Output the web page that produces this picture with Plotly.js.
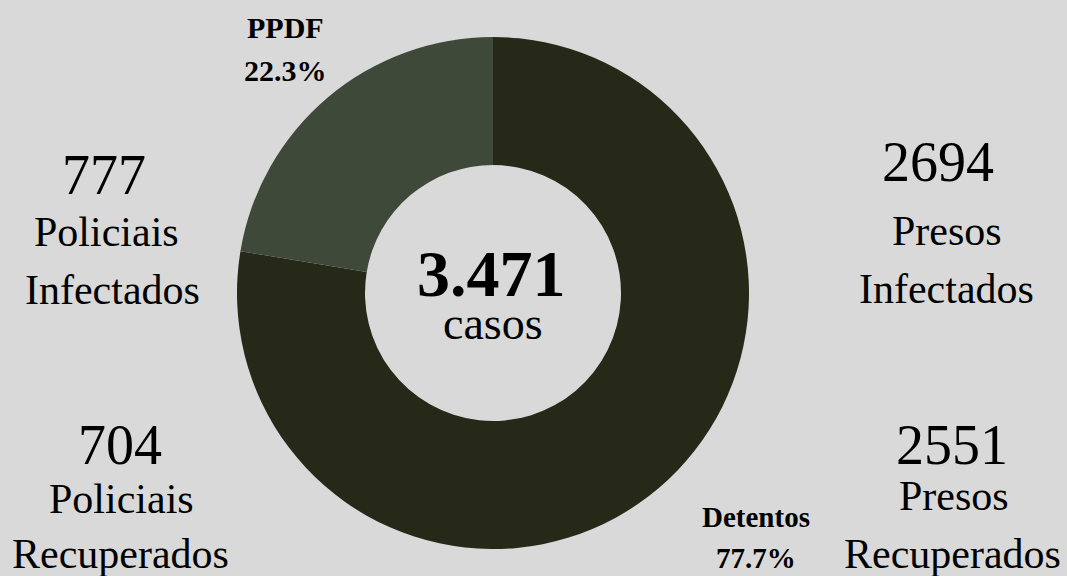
<!DOCTYPE html>
<html>
<head>
<meta charset="utf-8">
<script src="https://cdn.plot.ly/plotly-3.0.1.min.js"></script>
<style>html,body{margin:0;padding:0;background:#d9d9d9;}#chart{width:1067px;height:576px;}</style>
</head>
<body>
<div id="chart"></div>
<script>
// Data
const categories = ["Detentos", "PPDF"];
const values = [2694, 777];
const pctLabels = ["77.7%", "22.3%"];
const sliceColors = ["#262818", "#3f4939"];
const totalText = "3.471";
const totalUnit = "casos";
const statNumbers = ["777", "704", "2694", "2551"];
const statLine1 = ["Policiais", "Policiais", "Presos", "Presos"];
const statLine2 = ["Infectados", "Recuperados", "Infectados", "Recuperados"];

const W = 1067, H = 576;
const FONT = "Liberation Serif";
function px(x){return x / W;}
function py(y){return 1 - y / H;}

// text placements (x center, baseline y) in pixels
const statPos = [
  {x:104, y:[193, 246, 304], x1:107, x2:112},
  {x:120, y:[463, 513, 568], x1:121, x2:120},
  {x:938, y:[180, 245, 303], x1:947, x2:946},
  {x:952, y:[463, 510, 568], x1:954, x2:952}
];

const ann = [];
function addText(text, x, baseline, size, bold){
  ann.push({
    xref:'paper', yref:'paper', x:px(x), y:py(baseline - 0.33*size),
    xanchor:'center', yanchor:'middle', showarrow:false,
    text: bold ? '<b>'+text+'</b>' : text,
    font:{family:FONT, size:size, color:'#000000'}
  });
}
for (let i=0;i<statNumbers.length;i++){
  const p = statPos[i];
  addText(statNumbers[i], p.x, p.y[0], 56, false);
  addText(statLine1[i], p.x1, p.y[1], 42, false);
  addText(statLine2[i], p.x2, p.y[2], 42, false);
}
// center
addText(totalText, 491, 295, 66, true);
addText(totalUnit, 493, 339, 46, false);
// slice labels
addText(categories[1], 285, 37, 30, true);
addText(pctLabels[1], 285, 80, 30, true);
addText(categories[0], 756, 527, 29, true);
addText(pctLabels[0], 756, 568, 29, true);

const trace = {
  type:'pie',
  labels: categories,
  values: values,
  hole: 0.5,
  sort: false,
  direction: 'clockwise',
  rotation: 0,
  textinfo: 'none',
  hoverinfo: 'label+value+percent',
  marker: {colors: sliceColors, line:{width:0}},
  domain: {x:[px(237), px(749)], y:[py(549), py(37)]},
  showlegend: false
};

const layout = {
  width: W, height: H,
  margin: {l:0, r:0, t:0, b:0},
  paper_bgcolor: '#d9d9d9',
  plot_bgcolor: '#d9d9d9',
  showlegend: false,
  annotations: ann,
  font: {family: FONT}
};

Plotly.newPlot('chart', [trace], layout, {displayModeBar:false, staticPlot:true});
</script>
</body>
</html>
